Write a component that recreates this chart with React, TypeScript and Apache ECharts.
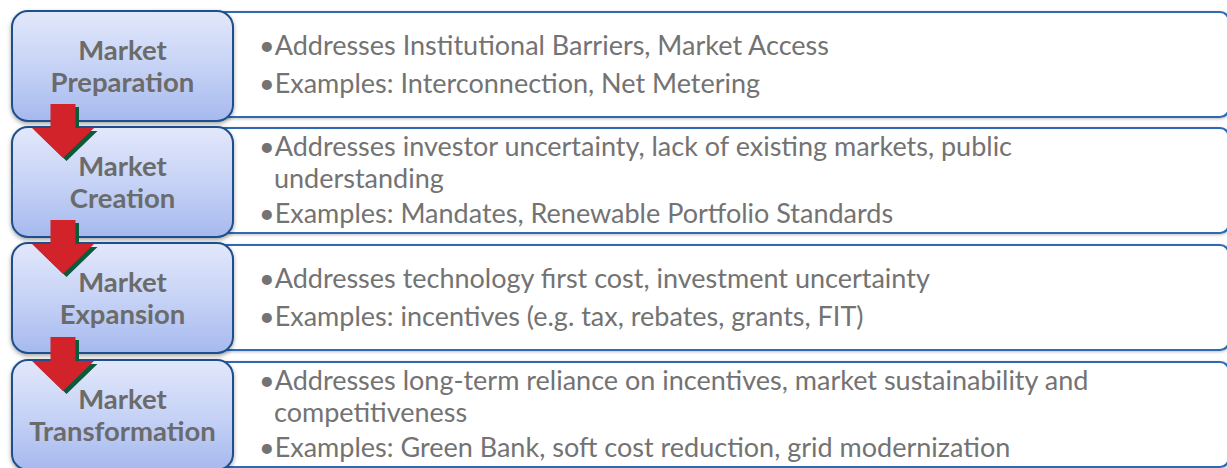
import React, { useEffect, useRef } from "react";
import * as echarts from "echarts";

const stageLabels: string[][] = [
  ["Market", "Preparation"],
  ["Market", "Creation"],
  ["Market", "Expansion"],
  ["Market", "Transformation"],
];

const bulletLines: { text: string; cont?: boolean }[][] = [
  [
    { text: "•Addresses Institutional Barriers, Market Access" },
    { text: "•Examples: Interconnection, Net Metering" },
  ],
  [
    { text: "•Addresses investor uncertainty, lack of existing markets, public" },
    { text: "understanding", cont: true },
    { text: "•Examples: Mandates, Renewable Portfolio Standards" },
  ],
  [
    { text: "•Addresses technology first cost, investment uncertainty" },
    { text: "•Examples: incentives (e.g. tax, rebates, grants, FIT)" },
  ],
  [
    { text: "•Addresses long-term reliance on incentives, market sustainability and" },
    { text: "competitiveness", cont: true },
    { text: "•Examples: Green Bank, soft cost reduction, grid modernization" },
  ],
];

const W = 1227;
const H = 468;

export default function App() {
  const ref = useRef<HTMLDivElement>(null);
  useEffect(() => {
    if (!ref.current) return;
    const chart = echarts.init(ref.current, undefined, { renderer: "svg" });
    const boxTops = [11, 127, 243, 360];
    const panelTops = [12, 128, 245, 362];
    const boxH = 110;
    const panelH = 105;
    const bodyFs = 27;
    const labelFs = 27.5;
    const font = "Lato, 'Noto Sans', sans-serif";
    const els: any[] = [];

    // panels
    panelTops.forEach((t) => {
      els.push({
        type: "rect",
        shape: { x: 150, y: t, width: 1079, height: panelH, r: 9 },
        style: {
          fill: "#ffffff",
          stroke: "#2e6bb4",
          lineWidth: 2.2,
          shadowBlur: 3,
          shadowColor: "rgba(0,0,0,0.25)",
          shadowOffsetY: 1,
        },
        z: 1,
      });
    });

    // left boxes
    boxTops.forEach((t) => {
      els.push({
        type: "rect",
        shape: { x: 12, y: t, width: 221, height: boxH, r: 16 },
        style: {
          fill: new echarts.graphic.LinearGradient(0, 0, 0, 1, [
            { offset: 0, color: "#e2e8fb" },
            { offset: 0.5, color: "#c7d3f6" },
            { offset: 1, color: "#a6b9ee" },
          ]),
          stroke: "#1d4f8b",
          lineWidth: 2,
          shadowBlur: 4,
          shadowColor: "rgba(0,0,0,0.35)",
          shadowOffsetY: 2,
        },
        z: 2,
      });
    });

    // arrows
    for (let i = 0; i < 3; i++) {
      const nt = boxTops[i + 1];
      const cx = 63;
      const shaftTop = nt - 23;
      const headTop = nt + 1;
      const tip = nt + 31;
      const mk = (dx: number, dy: number, color: string, z: number) => {
        els.push({
          type: "polygon",
          shape: {
            points: [
              [cx - 12.5 + dx, shaftTop + dy],
              [cx + 12.5 + dx, shaftTop + dy],
              [cx + 12.5 + dx, headTop + dy],
              [cx + 31 + dx, headTop + dy],
              [cx + dx, tip + dy],
              [cx - 31 + dx, headTop + dy],
              [cx - 12.5 + dx, headTop + dy],
            ],
          },
          style: { fill: color },
          z,
        });
      };
      mk(3.5, 3, "#0b5a3c", 3);
      mk(0, 0, "#d2232a", 4);
    }

    // labels
    stageLabels.forEach((lines, i) => {
      const c = boxTops[i] + boxH / 2;
      const baselines = [c - 7, c + 25];
      lines.forEach((ln, j) => {
        els.push({
          type: "text",
          x: 122.5,
          y: baselines[j] - labelFs * 0.36,
          style: {
            text: ln,
            fill: "#6b6b6b",
            fontSize: labelFs,
            fontWeight: "bold",
            fontFamily: font,
            align: "center",
            verticalAlign: "middle",
          },
          z: 5,
        });
      });
    });

    // bullet texts
    bulletLines.forEach((lines, i) => {
      const t = panelTops[i];
      const offs = lines.length === 2 ? [42, 80] : [27, 59, 94];
      lines.forEach((ln, j) => {
        els.push({
          type: "text",
          x: ln.cont ? 274 : 259,
          y: t + offs[j] - bodyFs * 0.36,
          style: {
            text: ln.text,
            fill: "#737373",
            fontSize: bodyFs,
            fontFamily: font,
            align: "left",
            verticalAlign: "middle",
          },
          z: 5,
        });
      });
    });

    chart.setOption({
      animation: false,
      backgroundColor: "#ffffff",
      graphic: { elements: els },
    });
    return () => chart.dispose();
  }, []);
  return (
    <div
      ref={ref}
      style={{ position: "fixed", left: 0, top: 0, width: W, height: H }}
    />
  );
}
